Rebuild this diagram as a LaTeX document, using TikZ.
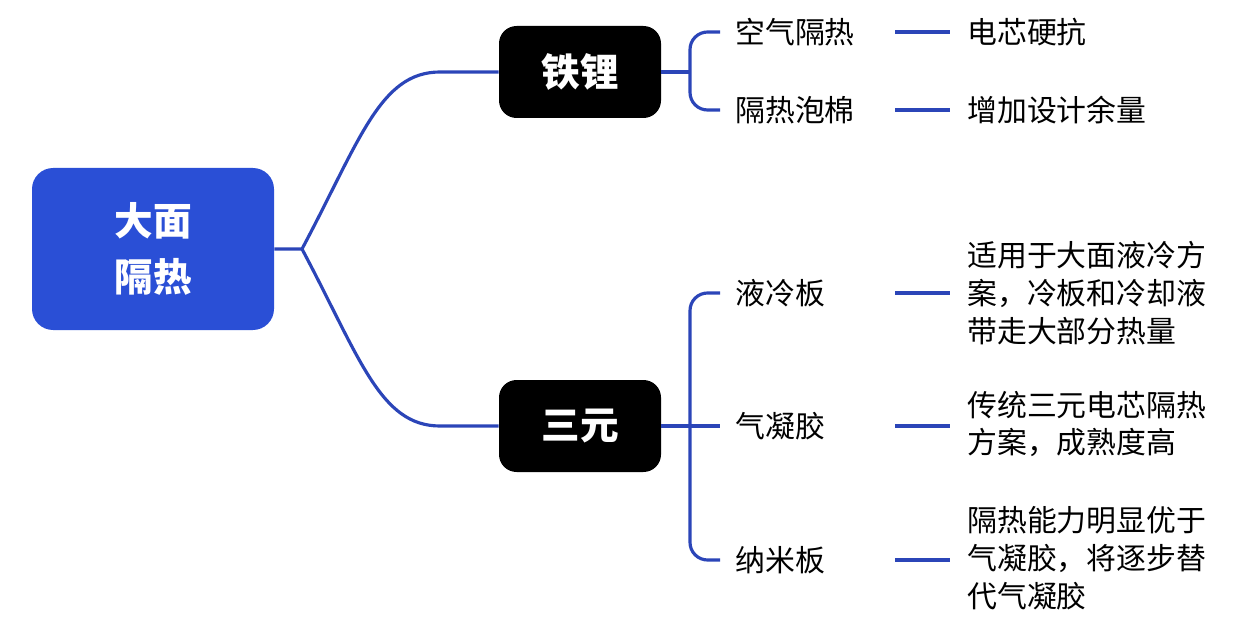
\documentclass[tikz,border=0pt]{standalone}
\usepackage{fontspec}
\setmainfont{Noto Sans CJK SC}
\newfontfamily\cjkb{Noto Sans CJK SC Bold}
\begin{document}
\begin{tikzpicture}[x=0.02cm,y=-0.02cm,
  ln/.style={draw=lineblue,line width=1.8pt},
  box/.style={fill=black,rounded corners=10pt,minimum width=162*0.02cm,minimum height=92*0.02cm,text=white,font=\fontsize{22}{26}\selectfont\bfseries},
  leaf/.style={anchor=west,font=\fontsize{17}{21}\selectfont,inner sep=0pt},
  desc/.style={anchor=west,align=left,font=\fontsize{17}{21.5}\selectfont,inner sep=0pt}]
\definecolor{lineblue}{HTML}{2B45B8}
\definecolor{rootblue}{HTML}{2A4FD6}
\useasboundingbox (0,0) rectangle (1256,621);
\node[fill=rootblue,rounded corners=12pt,minimum width=242*0.02cm,minimum height=162*0.02cm,text=white,align=center,font=\fontsize{22}{32}\selectfont\bfseries] (root) at (153,249) {大面\\隔热};
\node[box] (fe) at (580,72) {铁锂};
\node[box] (sy) at (580,426) {三元};
\coordinate (j0) at (302,249);
\draw[ln] (root.east) -- (j0) .. controls (360,140) and (380,72) .. (440,72) -- (fe.west);
\draw[ln] (j0) .. controls (360,358) and (380,426) .. (440,426) -- (sy.west);
% leaves
\node[leaf] (a1) at (735,32) {空气隔热};
\node[leaf] (a2) at (735,110) {隔热泡棉};
\node[leaf] (b1) at (735,293) {液冷板};
\node[leaf] (b2) at (735,426) {气凝胶};
\node[leaf] (b3) at (735,560) {纳米板};
\coordinate (f1) at (690,72);
\draw[ln] (fe.east) -- (f1);
\draw[ln,rounded corners=10pt] (720,32) -- (690,32) -- (690,110) -- (720,110);
\draw[ln,rounded corners=10pt] (720,293) -- (690,293) -- (690,560) -- (720,560);
\draw[ln] (sy.east) -- (720,426);
% descriptions
\node[desc] (d1) at (967,32) {电芯硬抗};
\node[desc] (d2) at (967,110) {增加设计余量};
\node[desc] (d3) at (967,293) {适用于大面液冷方\\案，冷板和冷却液\\带走大部分热量};
\node[desc] (d4) at (967,424) {传统三元电芯隔热\\方案，成熟度高};
\node[desc] (d5) at (967,558) {隔热能力明显优于\\气凝胶，将逐步替\\代气凝胶};
\foreach \y in {32,110,293,426,560} \draw[ln] (895,\y) -- (950,\y);
\end{tikzpicture}
\end{document}
